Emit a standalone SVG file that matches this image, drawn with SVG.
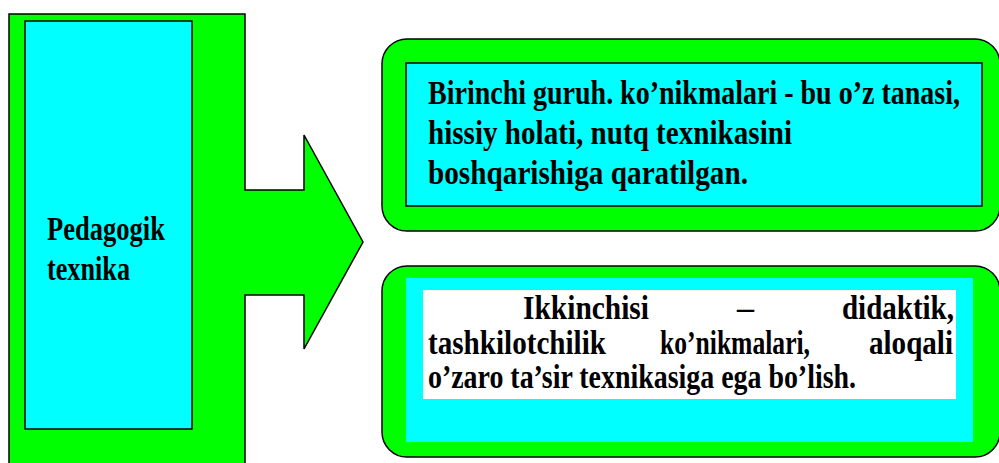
<svg xmlns="http://www.w3.org/2000/svg" width="999" height="463" viewBox="0 0 999 463">
<style>
.g{fill:#00ff00;stroke:#000;stroke-width:1.5}
.c{fill:#00ffff}
</style>
<rect width="999" height="463" fill="#fff"/>
<g id="connectors"></g>
<g font-family="Liberation Serif, Times New Roman, serif" font-weight="bold" font-size="33" fill="#000">
<g id="pedagogik">
<path class="g" d="M9,14 H245 V190 H304 V135 L363,242 L304,349 V295 H245 V470 H9 Z"/>
<rect class="c" x="25" y="21" width="167" height="408" stroke="#000" stroke-width="1.5"/>
<text x="47" y="240" textLength="118" lengthAdjust="spacingAndGlyphs">Pedagogik</text>
<text x="47" y="280" textLength="83" lengthAdjust="spacingAndGlyphs">texnika</text>
</g>
<g id="birinchi">
<rect class="g" x="382" y="39" width="618" height="192" rx="25" stroke-width="2"/>
<rect class="c" x="406" y="63" width="576" height="143" stroke="#000" stroke-width="1.5"/>
<text x="428" y="104" textLength="532" lengthAdjust="spacingAndGlyphs">Birinchi guruh. ko’nikmalari - bu o’z tanasi,</text>
<text x="428" y="144" textLength="364" lengthAdjust="spacingAndGlyphs">hissiy holati, nutq texnikasini</text>
<text x="428" y="184" textLength="320" lengthAdjust="spacingAndGlyphs">boshqarishiga qaratilgan.</text>
</g>
<g id="ikkinchi">
<rect class="g" x="382" y="266" width="618" height="191" rx="25" stroke-width="2"/>
<rect class="c" x="406" y="278" width="567" height="164"/>
<rect x="423" y="290" width="533" height="109" fill="#fff"/>
<text x="523" y="319" textLength="126" lengthAdjust="spacingAndGlyphs">Ikkinchisi</text>
<text x="737" y="319" textLength="17" lengthAdjust="spacingAndGlyphs">–</text>
<text x="842" y="319" textLength="112" lengthAdjust="spacingAndGlyphs">didaktik,</text>
<text x="428" y="354" textLength="178" lengthAdjust="spacingAndGlyphs">tashkilotchilik</text>
<text x="660" y="354" textLength="150" lengthAdjust="spacingAndGlyphs">ko’nikmalari,</text>
<text x="869" y="354" textLength="84" lengthAdjust="spacingAndGlyphs">aloqali</text>
<text x="428" y="388" textLength="428" lengthAdjust="spacingAndGlyphs">o’zaro ta’sir texnikasiga ega bo’lish.</text>
</g>
</g>
</svg>
